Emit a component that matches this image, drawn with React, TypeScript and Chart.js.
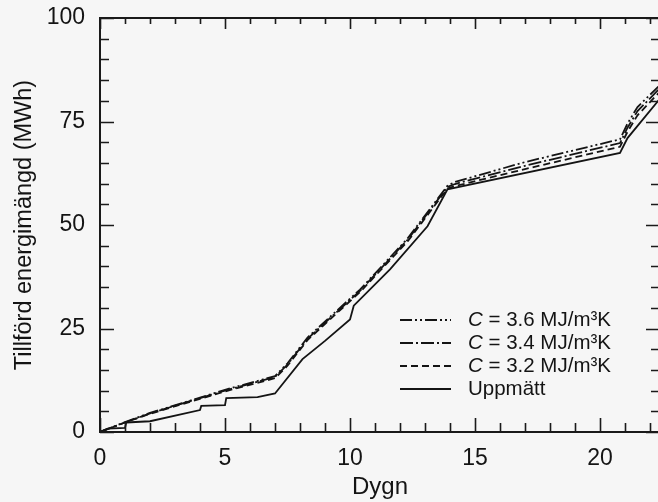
import React, { useEffect, useRef } from 'react';
import { Chart, registerables } from 'chart.js';

Chart.register(...registerables);

// ---- Data ----
const measuredDays = [0, 0.3, 1.0, 1.05, 2.0, 4.0, 4.05, 5.0, 5.05, 6.3, 7.0, 8.1, 9.0, 10.0, 10.15, 11.6, 13.1, 13.9, 20.8, 21.1, 22.6];
const measuredMWh = [0, 0.8, 1.0, 2.3, 2.6, 5.3, 6.3, 6.5, 8.2, 8.4, 9.3, 17.6, 22.0, 27.2, 30.5, 39.3, 49.7, 58.6, 67.4, 71.0, 82.0];

const simDays = [0, 1, 2, 4, 5, 7, 7.5, 8.3, 9.2, 10.4, 12.3, 13.9, 14.2, 17, 20.8, 21.1, 21.5, 22.6];
const sim32MWh = [0, 2.3, 4.4, 8.0, 9.8, 13.0, 16.0, 22.2, 27.2, 33.8, 46.0, 58.8, 59.4, 63.5, 68.9, 72.5, 76.5, 83.5];
const sim34MWh = [0, 2.3, 4.5, 8.2, 10.0, 13.3, 16.3, 22.5, 27.5, 34.1, 46.4, 59.2, 59.9, 64.3, 69.8, 73.5, 77.5, 84.3];
const sim36MWh = [0, 2.4, 4.6, 8.3, 10.2, 13.5, 16.6, 22.8, 27.8, 34.4, 46.7, 59.5, 60.4, 65.2, 70.7, 74.5, 78.5, 85.0];

const xTickValues = [0, 5, 10, 15, 20];
const yTickValues = [0, 25, 50, 75, 100];

const legendCValues = ['3.6', '3.4', '3.2'];
const legendMeasured = 'Uppmätt';
const yTitle = 'Tillförd energimängd (MWh)';
const xTitle = 'Dygn';

const FONT = "'Liberation Sans', Arial, Helvetica, sans-serif";
const INK = '#141414';

const toPoints = (xs: number[], ys: number[]) => xs.map((x, i) => ({ x, y: ys[i] }));

const framePlugin = {
  id: 'frameTicks',
  afterDatasetsDraw(chart: any) {
    const { ctx, chartArea: a, scales } = chart;
    const x = scales.x;
    const y = scales.y;
    ctx.save();
    ctx.strokeStyle = '#1a1a1a';
    ctx.lineWidth = 2;
    ctx.beginPath();
    ctx.rect(a.left, a.top, a.right - a.left, a.bottom - a.top);
    ctx.stroke();
    ctx.lineWidth = 1.6;
    ctx.beginPath();
    for (let v = 0; v <= 22; v++) {
      const px = Math.round(x.getPixelForValue(v)) + 0.5;
      const len = v % 5 === 0 ? 14 : 9;
      ctx.moveTo(px, a.bottom);
      ctx.lineTo(px, a.bottom - len);
      const lenTop = v % 5 === 0 ? 11 : 6;
      ctx.moveTo(px, a.top);
      ctx.lineTo(px, a.top + lenTop);
    }
    for (let v = 0; v <= 100; v += 5) {
      const py = Math.round(y.getPixelForValue(v)) + 0.5;
      const len = v % 25 === 0 ? 14 : 9;
      ctx.moveTo(a.left, py);
      ctx.lineTo(a.left + len, py);
      ctx.moveTo(a.right, py);
      ctx.lineTo(a.right - len, py);
    }
    ctx.stroke();
    ctx.restore();
  },
};

const legendPlugin = {
  id: 'customLegend',
  afterDraw(chart: any) {
    const { ctx } = chart;
    const rows = [0, 1, 2, 3];
    const rowY = [320, 343, 366, 389];
    const x0 = 400;
    const x1 = 451;
    const tx = 468;
    ctx.save();
    rows.forEach((i) => {
      const ds = chart.data.datasets[i];
      const yy = rowY[i];
      ctx.strokeStyle = INK;
      ctx.lineWidth = 1.8;
      ctx.setLineDash(ds.borderDash || []);
      ctx.beginPath();
      ctx.moveTo(x0, yy);
      ctx.lineTo(x1, yy);
      ctx.stroke();
      ctx.setLineDash([]);
      ctx.fillStyle = INK;
      ctx.textBaseline = 'middle';
      ctx.textAlign = 'left';
      if (i < 3) {
        ctx.font = `italic 20.5px ${FONT}`;
        ctx.fillText('C', tx, yy);
        const w = ctx.measureText('C').width;
        ctx.font = `20.5px ${FONT}`;
        ctx.fillText(` = ${legendCValues[i]} MJ/m\u00B3K`, tx + w, yy);
      } else {
        ctx.font = `20.5px ${FONT}`;
        ctx.fillText(legendMeasured, tx, yy);
      }
    });
    ctx.restore();
  },
};

export default function App() {
  const ref = useRef<HTMLCanvasElement>(null);

  useEffect(() => {
    if (!ref.current) return;
    const common = {
      borderColor: INK,
      borderWidth: 1.8,
      pointRadius: 0,
      tension: 0,
      fill: false,
    };
    const chart = new Chart(ref.current, {
      type: 'line',
      data: {
        datasets: [
          { ...common, label: 'C = 3.6 MJ/m³K', data: toPoints(simDays, sim36MWh), borderDash: [12, 3, 2, 3, 2, 3] },
          { ...common, label: 'C = 3.4 MJ/m³K', data: toPoints(simDays, sim34MWh), borderDash: [13, 3, 2, 3] },
          { ...common, label: 'C = 3.2 MJ/m³K', data: toPoints(simDays, sim32MWh), borderDash: [7, 4] },
          { ...common, label: legendMeasured, data: toPoints(measuredDays, measuredMWh), borderDash: [] },
        ],
      },
      options: {
        responsive: false,
        animation: false,
        devicePixelRatio: 1,
        layout: { padding: { left: 0, top: 18, right: 8, bottom: 0 } },
        plugins: { legend: { display: false }, tooltip: { enabled: false } },
        scales: {
          x: {
            type: 'linear',
            min: 0,
            max: 22.4,
            grid: { display: false, drawTicks: false, tickLength: 0 },
            border: { display: false },
            afterBuildTicks: (scale: any) => {
              scale.ticks = xTickValues.map((v) => ({ value: v }));
            },
            afterFit: (scale: any) => {
              scale.height = 70;
              scale.paddingLeft = 0;
              scale.paddingRight = 0;
            },
            ticks: {
              includeBounds: false,
              autoSkip: false,
              maxRotation: 0,
              padding: 13,
              color: INK,
              font: { family: FONT, size: 23 },
            },
            title: {
              display: true,
              text: xTitle,
              color: INK,
              font: { family: FONT, size: 24 },
              padding: { top: 0, bottom: 0 },
            },
          },
          y: {
            type: 'linear',
            min: 0,
            max: 100,
            grid: { display: false, drawTicks: false, tickLength: 0 },
            border: { display: false },
            afterBuildTicks: (scale: any) => {
              scale.ticks = yTickValues.map((v) => ({ value: v }));
            },
            afterFit: (scale: any) => {
              scale.width = 100;
              scale.paddingTop = 0;
              scale.paddingBottom = 0;
            },
            ticks: {
              includeBounds: false,
              autoSkip: false,
              padding: 15,
              color: INK,
              font: { family: FONT, size: 23 },
            },
            title: {
              display: true,
              text: yTitle,
              color: INK,
              font: { family: FONT, size: 23.5 },
              padding: { top: 10, bottom: 0 },
            },
          },
        },
      },
      plugins: [framePlugin, legendPlugin],
    } as any);
    return () => chart.destroy();
  }, []);

  return (
    <div
      style={{
        position: 'fixed',
        left: 0,
        top: 0,
        width: 658,
        height: 502,
        overflow: 'hidden',
        background: '#f6f6f6',
      }}
    >
      <canvas ref={ref} width={668} height={502} style={{ display: 'block', width: 668, height: 502 }} />
    </div>
  );
}
